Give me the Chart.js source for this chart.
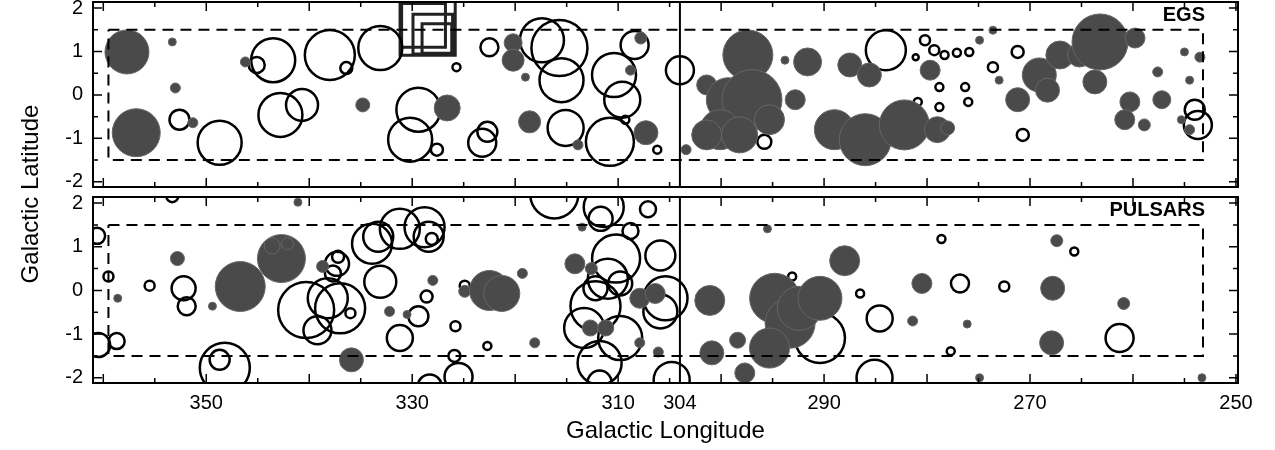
<!DOCTYPE html>
<html><head><meta charset="utf-8">
<script src="https://cdn.jsdelivr.net/npm/chart.js@4"></script>
<style>
body{margin:0;width:1275px;height:450px;background:#fff;position:relative;overflow:hidden;font-family:"Liberation Sans",Arial,sans-serif}
.box{position:absolute;left:0;width:1275px}
#yt{position:absolute;left:-70px;top:180px;width:200px;text-align:center;transform:rotate(-90deg);font-size:24px}
</style></head><body>
<div class="box" style="top:0;height:192px"><canvas id="c1"></canvas></div>
<div class="box" style="top:193px;height:257px"><canvas id="c2"></canvas></div>
<div id="yt">Galactic Latitude</div>
<script>
// [longitude, latitude, radius]
const egsFilled=[[357.7,0.99,22],[356.8,-0.87,24],[353.3,1.22,4],[353.0,0.16,5],[351.3,-0.64,5],[346.2,0.76,5],[334.8,-0.23,7],[326.6,-0.30,13],[320.2,1.20,9],[320.2,0.80,11],[318.6,-0.62,11],[319.0,0.41,4],[313.9,-1.15,5],[307.8,1.31,6],[307.3,-0.87,12],[308.8,0.57,5],
[303.4,-1.26,5],[301.4,0.23,10],[299.3,-0.11,22],[297.4,0.92,25],[297.0,-0.11,30],[300.1,-0.80,20],[301.4,-0.92,15],[298.2,-0.92,18],[295.3,-0.57,15],[293.8,0.80,4],[292.8,-0.11,10],[291.6,0.76,14],[289.0,-0.80,20],[286.0,-1.03,26],[287.5,0.69,12],[285.6,0.46,12],[282.2,-0.69,25],[279.7,0.57,10],[279.0,-0.80,13],[278.0,-0.76,7],[274.9,1.26,4],[273.0,0.34,4],[273.6,1.49,4],[271.2,-0.11,12],[269.1,0.46,17],[268.3,0.11,12],[267.1,0.92,14],[265.2,0.92,12],[263.7,0.30,12],[263.2,1.22,28],[260.3,-0.16,10],[259.8,1.31,10],[260.8,-0.57,10],[258.9,-0.69,6],[257.6,0.53,5],[257.2,-0.11,9],[254.5,0.34,4],[255.0,0.99,4],[253.5,0.87,5],[254.5,-0.80,5],[255.3,-0.57,4]];
const egsOpen=[[342.8,-0.46,22],[345.1,0.69,8],[352.6,-0.57,10],[348.7,-1.10,22],[343.5,0.80,22],[340.7,-0.23,16],[338.0,0.92,25],[336.4,0.62,6],[333.1,1.08,22],[329.4,-0.34,22],[330.2,-1.03,22],[327.6,-1.26,6],[325.7,0.64,4],[322.5,1.10,9],[322.7,-0.85,10],[323.2,-1.10,14],[317.4,1.26,22],[315.7,1.08,28],[315.1,-0.76,18],[315.5,0.34,22],[310.8,-1.08,24],[310.4,0.46,22],[309.6,-0.11,18],[308.4,1.15,14],[306.2,-1.26,4],[309.3,-0.57,4],
[304.0,0.57,14],[295.8,-1.08,7],[284.0,1.03,20],[280.2,1.26,5],[279.3,1.03,5],[278.3,0.92,4],[277.1,0.97,4],[275.9,0.99,4],[281.1,0.87,3],[280.9,-0.16,4],[278.8,0.18,4],[278.8,-0.28,4],[276.3,0.18,4],[276.0,-0.16,4],[273.6,0.64,5],[271.2,0.99,6],[270.7,-0.92,6],[254.0,-0.34,10],[253.7,-0.69,14]];
const egsSquares=[[328.5,1.55,39],[328.9,1.6,31],[328.0,1.4,28],[327.6,1.3,21]];
const psrFilled=[[346.7,0.09,25],[342.7,0.73,24],[343.6,1.02,8],[342.1,1.07,6],[352.8,0.73,7],[358.6,-0.18,4],[349.4,-0.36,4],[341.1,2.02,4],[338.7,0.55,6],[335.9,-1.59,12],[332.2,-0.48,5],[330.5,-0.55,4],[328.0,0.23,5],[324.9,-0.02,6],[322.5,0.00,20],[321.3,-0.07,18],[319.3,0.39,5],[318.1,-1.20,5],[314.2,0.61,10],[312.6,0.50,6],[312.7,-0.86,8],[311.2,-0.86,8],[307.9,-0.18,10],[306.4,-0.07,10],[306.1,-1.41,5],[307.9,-1.20,5],[313.5,1.45,4],
[301.1,-0.23,15],[300.9,-1.43,12],[298.4,-1.14,8],[294.8,-0.18,25],[293.3,-0.75,25],[295.3,-1.32,20],[292.4,-0.41,22],[290.4,-0.18,22],[297.7,-1.89,10],[295.5,1.41,4],[288.0,0.68,15],[280.5,0.16,10],[281.4,-0.70,5],[276.1,-0.77,4],[274.9,-2.0,4],[267.4,1.14,6],[267.8,0.05,12],[267.9,-1.20,12],[260.9,-0.30,6],[253.3,-2.0,4]];
const psrOpen=[[360.6,1.25,8],[360.5,-1.25,12],[358.7,-1.16,8],[359.5,0.32,5],[355.5,0.11,5],[353.3,2.16,6],[352.2,0.05,12],[351.9,-0.36,9],[348.2,-1.77,25],[348.7,-1.59,10],[346.9,-0.18,8],[340.3,-0.45,28],[338.2,-0.18,20],[339.2,-0.91,14],[337.0,-0.41,25],[337.7,0.39,8],[337.3,0.61,12],[337.2,0.77,6],[336.4,-1.66,5],[336.0,-0.52,5],[333.9,1.07,20],[333.1,0.20,16],[333.3,1.23,15],[331.2,-1.09,13],[331.2,1.41,20],[328.8,1.45,20],[328.4,1.23,15],[328.1,1.18,6],[329.4,-0.59,10],[328.6,-0.14,6],[325.8,-0.82,5],[324.9,0.11,5],[322.7,-1.27,4],[316.2,2.2,24],[311.4,1.91,20],[311.7,1.64,12],[307.1,1.86,8],[308.8,1.36,8],[310.2,0.73,24],[311.0,0.27,20],[312.2,-0.36,25],[313.3,-0.86,20],[311.8,-1.66,22],[309.8,-1.09,22],[305.9,0.80,15],[305.4,-0.18,22],[305.9,-0.48,17],[304.8,-2.05,18],[311.8,-2.11,12],[312.2,0.05,12],[309.8,0.16,12],
[290.4,-1.09,25],[286.5,-0.07,4],[285.1,-2.0,18],[284.6,-0.64,13],[278.6,1.18,4],[276.8,0.16,9],[272.5,0.09,5],[265.7,0.89,4],[277.7,-1.39,4],[261.3,-1.09,14],[287.7,0.68,6],[293.1,0.32,4],[325.9,-1.50,6],[328.3,-2.2,12],[325.5,-1.98,14]];
const xTickVals=[350,330,310,304,290,270,250];
const yTickVals=[2,1,0,-1,-2];
const boxL=[359.5,253.2], boxB=[-1.5,1.5], splitL=304;

const pts=a=>a.map(p=>({x:p[0],y:p[1],r:p[2]}));
function datasets(filled,open,squares){
  const ds=[
   {type:'line',data:[{x:boxL[0],y:boxB[1]},{x:boxL[1],y:boxB[1]},{x:boxL[1],y:boxB[0]},{x:boxL[0],y:boxB[0]},{x:boxL[0],y:boxB[1]}],borderColor:'#000',borderWidth:2,borderDash:[11,7],pointRadius:0,fill:false,tension:0},
   {type:'line',data:[{x:splitL,y:-3},{x:splitL,y:3}],borderColor:'#000',borderWidth:2,pointRadius:0,fill:false},
   {type:'bubble',data:pts(filled),backgroundColor:'#4a4a4a',borderColor:'#666',borderWidth:1},
   {type:'bubble',data:pts(open),backgroundColor:'rgba(0,0,0,0)',borderColor:'#000',borderWidth:2.5}];
  if(squares) ds.push({type:'bubble',data:pts(squares),pointStyle:'rect',backgroundColor:'rgba(0,0,0,0)',borderColor:'#222',borderWidth:3});
  return ds;
}
const frame={id:'frame',afterDraw(c,a,o){
  const {ctx,chartArea:ca,scales:{x,y}}=c;
  ctx.save();ctx.strokeStyle='#000';ctx.lineWidth=2;ctx.strokeRect(ca.left,ca.top,ca.right-ca.left,ca.bottom-ca.top);
  ctx.lineWidth=1.5;ctx.beginPath();
  for(let l=250;l<=360;l+=5){const px=x.getPixelForValue(l),len=(l%10===0)?9:5;ctx.moveTo(px,ca.top);ctx.lineTo(px,ca.top+len);ctx.moveTo(px,ca.bottom);ctx.lineTo(px,ca.bottom-len);}
  for(let b=-2;b<=2;b+=0.5){const py=y.getPixelForValue(b),len=(b%1===0)?9:5;ctx.moveTo(ca.left,py);ctx.lineTo(ca.left+len,py);ctx.moveTo(ca.right,py);ctx.lineTo(ca.right-len,py);}
  ctx.stroke();
  ctx.font='bold 20px "Liberation Sans"';ctx.fillStyle='#000';ctx.textAlign='right';ctx.textBaseline='top';
  ctx.fillText(o.label,ca.right-33,ca.top+3);
  ctx.restore();}};
function make(id,filled,open,squares,label,bottom){
  const xs={type:'linear',reverse:true,min:249.8,max:361,display:bottom,
        afterBuildTicks:s=>{s.ticks=xTickVals.map(v=>({value:v}));},
        grid:{display:false,drawTicks:false},border:{display:false},
        ticks:{color:'#000',font:{size:20,family:'Liberation Sans'},padding:8,maxRotation:0,autoSkip:false},
        title:{display:bottom,text:'Galactic Longitude',color:'#000',font:{size:24,family:'Liberation Sans'},padding:{top:0}}};
  if(bottom) xs.afterFit=s=>{s.height=67;s.paddingLeft=0;s.paddingRight=0;};
  return new Chart(document.getElementById(id),{type:'bubble',data:{datasets:datasets(filled,open,squares)},
   options:{responsive:true,maintainAspectRatio:false,animation:false,
    layout:{autoPadding:false,padding:{top:bottom?4:2,right:37,bottom:bottom?0:5,left:0}},
    plugins:{legend:{display:false},tooltip:{enabled:false},frame:{label}},
    scales:{x:xs,
     y:{type:'linear',min:-2.12,max:2.14,afterBuildTicks:s=>{s.ticks=yTickVals.map(v=>({value:v}));},
        afterFit:s=>{s.width=93;s.paddingTop=0;s.paddingBottom=0;},
        grid:{display:false,drawTicks:false},border:{display:false},
        ticks:{color:'#000',font:{size:20,family:'Liberation Sans'},padding:10}}}},
   plugins:[frame]});
}
make('c1',egsFilled,egsOpen,egsSquares,'EGS',false);
make('c2',psrFilled,psrOpen,null,'PULSARS',true);
</script></body></html>
